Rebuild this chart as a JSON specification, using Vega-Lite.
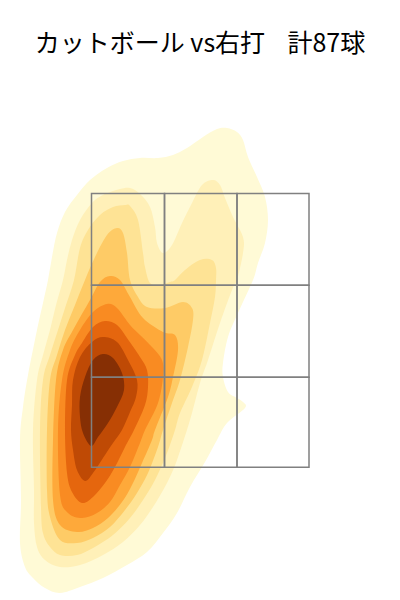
{"$schema":"https://vega.github.io/schema/vega-lite/v6.json","width":400,"height":600,"padding":0,"autosize":{"type":"none"},"background":"white","config":{"view":{"stroke":null}},
"title":{"text":"カットボール vs右打\u00a0\u00a0\u00a0\u00a0計87球","font":"Noto Sans CJK JP","fontSize":25,"fontWeight":"normal","color":"#000000","anchor":"middle","offset":-77,"baseline":"alphabetic"},
"datasets":{"contours":[
{"level":1,"seq":1,"x":-152,"y":320},{"level":1,"seq":2,"x":-148,"y":343},{"level":1,"seq":3,"x":-143,"y":367},{"level":1,"seq":4,"x":-135,"y":388},{"level":1,"seq":5,"x":-123,"y":405},{"level":1,"seq":6,"x":-110,"y":420},{"level":1,"seq":7,"x":-93,"y":432},{"level":1,"seq":8,"x":-77,"y":439},{"level":1,"seq":9,"x":-60,"y":442},{"level":1,"seq":10,"x":-42,"y":442},{"level":1,"seq":11,"x":-27,"y":445},{"level":1,"seq":12,"x":-13,"y":452},{"level":1,"seq":13,"x":3,"y":463},{"level":1,"seq":14,"x":17,"y":471},{"level":1,"seq":15,"x":27,"y":472},{"level":1,"seq":16,"x":37,"y":468},{"level":1,"seq":17,"x":43,"y":460},{"level":1,"seq":18,"x":48,"y":443},{"level":1,"seq":19,"x":57,"y":423},{"level":1,"seq":20,"x":65,"y":403},{"level":1,"seq":21,"x":68,"y":380},{"level":1,"seq":22,"x":65,"y":357},{"level":1,"seq":23,"x":58,"y":337},{"level":1,"seq":24,"x":53,"y":320},{"level":1,"seq":25,"x":38,"y":287},{"level":1,"seq":26,"x":28,"y":263},{"level":1,"seq":27,"x":23,"y":237},{"level":1,"seq":28,"x":23,"y":223},{"level":1,"seq":29,"x":28,"y":208},{"level":1,"seq":30,"x":37,"y":202},{"level":1,"seq":31,"x":43,"y":198},{"level":1,"seq":32,"x":45,"y":192},{"level":1,"seq":33,"x":27,"y":177},{"level":1,"seq":34,"x":17,"y":160},{"level":1,"seq":35,"x":5,"y":138},{"level":1,"seq":36,"x":-10,"y":113},{"level":1,"seq":37,"x":-23,"y":87},{"level":1,"seq":38,"x":-37,"y":67},{"level":1,"seq":39,"x":-53,"y":48},{"level":1,"seq":40,"x":-73,"y":35},{"level":1,"seq":41,"x":-97,"y":22},{"level":1,"seq":42,"x":-120,"y":13},{"level":1,"seq":43,"x":-140,"y":7},{"level":1,"seq":44,"x":-155,"y":12},{"level":1,"seq":45,"x":-167,"y":22},{"level":1,"seq":46,"x":-175,"y":33},{"level":1,"seq":47,"x":-180,"y":57},{"level":1,"seq":48,"x":-179,"y":100},{"level":1,"seq":49,"x":-180,"y":160},{"level":1,"seq":50,"x":-177,"y":193},{"level":1,"seq":51,"x":-172,"y":225},{"level":1,"seq":52,"x":-163,"y":270},{"level":1,"seq":53,"x":-157,"y":297},
{"level":2,"seq":1,"x":-137,"y":320},{"level":2,"seq":2,"x":-133,"y":340},{"level":2,"seq":3,"x":-128,"y":360},{"level":2,"seq":4,"x":-120,"y":380},{"level":2,"seq":5,"x":-108,"y":397},{"level":2,"seq":6,"x":-97,"y":405},{"level":2,"seq":7,"x":-80,"y":411},{"level":2,"seq":8,"x":-70,"y":412},{"level":2,"seq":9,"x":-60,"y":406},{"level":2,"seq":10,"x":-50,"y":393},{"level":2,"seq":11,"x":-45,"y":373},{"level":2,"seq":12,"x":-43,"y":357},{"level":2,"seq":13,"x":-37,"y":347},{"level":2,"seq":14,"x":-28,"y":355},{"level":2,"seq":15,"x":-18,"y":377},{"level":2,"seq":16,"x":-8,"y":397},{"level":2,"seq":17,"x":2,"y":415},{"level":2,"seq":18,"x":13,"y":420},{"level":2,"seq":19,"x":20,"y":415},{"level":2,"seq":20,"x":25,"y":402},{"level":2,"seq":21,"x":33,"y":383},{"level":2,"seq":22,"x":43,"y":363},{"level":2,"seq":23,"x":43,"y":347},{"level":2,"seq":24,"x":37,"y":320},{"level":2,"seq":25,"x":32,"y":310},{"level":2,"seq":26,"x":20,"y":277},{"level":2,"seq":27,"x":8,"y":240},{"level":2,"seq":28,"x":0,"y":217},{"level":2,"seq":29,"x":-10,"y":180},{"level":2,"seq":30,"x":-23,"y":140},{"level":2,"seq":31,"x":-33,"y":117},{"level":2,"seq":32,"x":-47,"y":93},{"level":2,"seq":33,"x":-60,"y":75},{"level":2,"seq":34,"x":-77,"y":58},{"level":2,"seq":35,"x":-97,"y":45},{"level":2,"seq":36,"x":-120,"y":35},{"level":2,"seq":37,"x":-140,"y":33},{"level":2,"seq":38,"x":-155,"y":40},{"level":2,"seq":39,"x":-163,"y":53},{"level":2,"seq":40,"x":-166,"y":77},{"level":2,"seq":41,"x":-166,"y":110},{"level":2,"seq":42,"x":-167,"y":170},{"level":2,"seq":43,"x":-163,"y":220},{"level":2,"seq":44,"x":-157,"y":245},{"level":2,"seq":45,"x":-150,"y":270},{"level":2,"seq":46,"x":-144,"y":295},
{"level":3,"seq":1,"x":-126,"y":320},{"level":3,"seq":2,"x":-120,"y":352},{"level":3,"seq":3,"x":-112,"y":370},{"level":3,"seq":4,"x":-100,"y":385},{"level":3,"seq":5,"x":-87,"y":393},{"level":3,"seq":6,"x":-75,"y":395},{"level":3,"seq":7,"x":-70,"y":394},{"level":3,"seq":8,"x":-62,"y":380},{"level":3,"seq":9,"x":-57,"y":347},{"level":3,"seq":10,"x":-55,"y":333},{"level":3,"seq":11,"x":-50,"y":317},{"level":3,"seq":12,"x":-40,"y":315},{"level":3,"seq":13,"x":-30,"y":318},{"level":3,"seq":14,"x":-25,"y":320},{"level":3,"seq":15,"x":-15,"y":330},{"level":3,"seq":16,"x":0,"y":340},{"level":3,"seq":17,"x":12,"y":340},{"level":3,"seq":18,"x":16,"y":332},{"level":3,"seq":19,"x":16,"y":320},{"level":3,"seq":20,"x":15,"y":303},{"level":3,"seq":21,"x":10,"y":277},{"level":3,"seq":22,"x":2,"y":240},{"level":3,"seq":23,"x":-8,"y":213},{"level":3,"seq":24,"x":-20,"y":187},{"level":3,"seq":25,"x":-25,"y":170},{"level":3,"seq":26,"x":-33,"y":147},{"level":3,"seq":27,"x":-45,"y":120},{"level":3,"seq":28,"x":-57,"y":100},{"level":3,"seq":29,"x":-70,"y":82},{"level":3,"seq":30,"x":-87,"y":65},{"level":3,"seq":31,"x":-107,"y":52},{"level":3,"seq":32,"x":-123,"y":45},{"level":3,"seq":33,"x":-140,"y":45},{"level":3,"seq":34,"x":-150,"y":53},{"level":3,"seq":35,"x":-157,"y":67},{"level":3,"seq":36,"x":-159,"y":93},{"level":3,"seq":37,"x":-160,"y":170},{"level":3,"seq":38,"x":-157,"y":220},{"level":3,"seq":39,"x":-150,"y":245},{"level":3,"seq":40,"x":-142,"y":270},{"level":3,"seq":41,"x":-134,"y":295},
{"level":4,"seq":1,"x":-115,"y":320},{"level":4,"seq":2,"x":-105,"y":343},{"level":4,"seq":3,"x":-93,"y":365},{"level":4,"seq":4,"x":-83,"y":372},{"level":4,"seq":5,"x":-77,"y":367},{"level":4,"seq":6,"x":-73,"y":347},{"level":4,"seq":7,"x":-70,"y":320},{"level":4,"seq":8,"x":-62,"y":303},{"level":4,"seq":9,"x":-53,"y":293},{"level":4,"seq":10,"x":-35,"y":292},{"level":4,"seq":11,"x":-17,"y":298},{"level":4,"seq":12,"x":-8,"y":292},{"level":4,"seq":13,"x":-7,"y":280},{"level":4,"seq":14,"x":-12,"y":253},{"level":4,"seq":15,"x":-20,"y":220},{"level":4,"seq":16,"x":-28,"y":197},{"level":4,"seq":17,"x":-37,"y":170},{"level":4,"seq":18,"x":-42,"y":153},{"level":4,"seq":19,"x":-52,"y":127},{"level":4,"seq":20,"x":-63,"y":107},{"level":4,"seq":21,"x":-75,"y":90},{"level":4,"seq":22,"x":-90,"y":73},{"level":4,"seq":23,"x":-107,"y":62},{"level":4,"seq":24,"x":-123,"y":57},{"level":4,"seq":25,"x":-140,"y":60},{"level":4,"seq":26,"x":-150,"y":83},{"level":4,"seq":27,"x":-153,"y":110},{"level":4,"seq":28,"x":-153,"y":170},{"level":4,"seq":29,"x":-150,"y":220},{"level":4,"seq":30,"x":-143,"y":245},{"level":4,"seq":31,"x":-135,"y":270},{"level":4,"seq":32,"x":-125,"y":295},
{"level":5,"seq":1,"x":-100,"y":318},{"level":5,"seq":2,"x":-90,"y":324},{"level":5,"seq":3,"x":-80,"y":320},{"level":5,"seq":4,"x":-70,"y":303},{"level":5,"seq":5,"x":-57,"y":282},{"level":5,"seq":6,"x":-37,"y":268},{"level":5,"seq":7,"x":-25,"y":265},{"level":5,"seq":8,"x":-22,"y":250},{"level":5,"seq":9,"x":-27,"y":223},{"level":5,"seq":10,"x":-32,"y":203},{"level":5,"seq":11,"x":-45,"y":170},{"level":5,"seq":12,"x":-48,"y":160},{"level":5,"seq":13,"x":-58,"y":137},{"level":5,"seq":14,"x":-68,"y":115},{"level":5,"seq":15,"x":-78,"y":98},{"level":5,"seq":16,"x":-92,"y":82},{"level":5,"seq":17,"x":-107,"y":72},{"level":5,"seq":18,"x":-123,"y":68},{"level":5,"seq":19,"x":-140,"y":75},{"level":5,"seq":20,"x":-147,"y":100},{"level":5,"seq":21,"x":-147,"y":160},{"level":5,"seq":22,"x":-144,"y":220},{"level":5,"seq":23,"x":-137,"y":250},{"level":5,"seq":24,"x":-127,"y":270},{"level":5,"seq":25,"x":-110,"y":300},
{"level":6,"seq":1,"x":-93,"y":296},{"level":6,"seq":2,"x":-83,"y":292},{"level":6,"seq":3,"x":-70,"y":275},{"level":6,"seq":4,"x":-60,"y":265},{"level":6,"seq":5,"x":-48,"y":253},{"level":6,"seq":6,"x":-38,"y":240},{"level":6,"seq":7,"x":-37,"y":223},{"level":6,"seq":8,"x":-42,"y":197},{"level":6,"seq":9,"x":-55,"y":170},{"level":6,"seq":10,"x":-60,"y":157},{"level":6,"seq":11,"x":-70,"y":133},{"level":6,"seq":12,"x":-80,"y":115},{"level":6,"seq":13,"x":-90,"y":98},{"level":6,"seq":14,"x":-103,"y":87},{"level":6,"seq":15,"x":-118,"y":82},{"level":6,"seq":16,"x":-132,"y":87},{"level":6,"seq":17,"x":-140,"y":105},{"level":6,"seq":18,"x":-142,"y":170},{"level":6,"seq":19,"x":-138,"y":220},{"level":6,"seq":20,"x":-130,"y":250},{"level":6,"seq":21,"x":-120,"y":270},{"level":6,"seq":22,"x":-107,"y":288},
{"level":7,"seq":1,"x":-95,"y":279},{"level":7,"seq":2,"x":-83,"y":275},{"level":7,"seq":3,"x":-73,"y":262},{"level":7,"seq":4,"x":-60,"y":243},{"level":7,"seq":5,"x":-53,"y":230},{"level":7,"seq":6,"x":-52,"y":213},{"level":7,"seq":7,"x":-55,"y":195},{"level":7,"seq":8,"x":-66,"y":170},{"level":7,"seq":9,"x":-75,"y":153},{"level":7,"seq":10,"x":-85,"y":133},{"level":7,"seq":11,"x":-95,"y":117},{"level":7,"seq":12,"x":-107,"y":103},{"level":7,"seq":13,"x":-118,"y":97},{"level":7,"seq":14,"x":-128,"y":108},{"level":7,"seq":15,"x":-133,"y":127},{"level":7,"seq":16,"x":-135,"y":170},{"level":7,"seq":17,"x":-133,"y":220},{"level":7,"seq":18,"x":-125,"y":245},{"level":7,"seq":19,"x":-118,"y":257},{"level":7,"seq":20,"x":-107,"y":273},
{"level":8,"seq":1,"x":-97,"y":263},{"level":8,"seq":2,"x":-83,"y":258},{"level":8,"seq":3,"x":-72,"y":240},{"level":8,"seq":4,"x":-63,"y":220},{"level":8,"seq":5,"x":-64,"y":203},{"level":8,"seq":6,"x":-70,"y":188},{"level":8,"seq":7,"x":-78,"y":170},{"level":8,"seq":8,"x":-87,"y":157},{"level":8,"seq":9,"x":-97,"y":142},{"level":8,"seq":10,"x":-107,"y":127},{"level":8,"seq":11,"x":-115,"y":119},{"level":8,"seq":12,"x":-123,"y":130},{"level":8,"seq":13,"x":-127,"y":150},{"level":8,"seq":14,"x":-129,"y":170},{"level":8,"seq":15,"x":-128,"y":195},{"level":8,"seq":16,"x":-127,"y":220},{"level":8,"seq":17,"x":-120,"y":243},{"level":8,"seq":18,"x":-108,"y":258},
{"level":9,"seq":1,"x":-97,"y":246},{"level":9,"seq":2,"x":-87,"y":242},{"level":9,"seq":3,"x":-78,"y":227},{"level":9,"seq":4,"x":-76,"y":210},{"level":9,"seq":5,"x":-83,"y":193},{"level":9,"seq":6,"x":-92,"y":177},{"level":9,"seq":7,"x":-102,"y":163},{"level":9,"seq":8,"x":-109,"y":154},{"level":9,"seq":9,"x":-117,"y":167},{"level":9,"seq":10,"x":-120,"y":183},{"level":9,"seq":11,"x":-120,"y":203},{"level":9,"seq":12,"x":-115,"y":223},{"level":9,"seq":13,"x":-107,"y":240}
],
"zone":[
{"x":-108.5,"x2":-35.5,"y":314.7,"y2":406.5},{"x":-35.5,"x2":37,"y":314.7,"y2":406.5},{"x":37,"x2":109,"y":314.7,"y2":406.5},
{"x":-108.5,"x2":-35.5,"y":222.7,"y2":314.7},{"x":-35.5,"x2":37,"y":222.7,"y2":314.7},{"x":37,"x2":109,"y":222.7,"y2":314.7},
{"x":-108.5,"x2":-35.5,"y":132.7,"y2":222.7},{"x":-35.5,"x2":37,"y":132.7,"y2":222.7},{"x":37,"x2":109,"y":132.7,"y2":222.7}
]},
"layer":[
{"data":{"name":"contours"},"mark":{"type":"line","interpolate":"cardinal-closed","strokeWidth":0,"clip":false},
"encoding":{"x":{"field":"x","type":"quantitative","scale":{"domain":[-200,200],"nice":false,"zero":false},"axis":null},
"y":{"field":"y","type":"quantitative","scale":{"domain":[0,600],"nice":false,"zero":false},"axis":null},
"order":{"field":"seq","type":"quantitative"},
"fill":{"field":"level","type":"ordinal","legend":null,"scale":{"domain":[1,2,3,4,5,6,7,8,9],"range":["#fffad6","#fff0b8","#fee395","#fecb66","#fea93a","#f98b22","#e5660e","#bf4a05","#862f04"]}}}},
{"data":{"name":"zone"},"mark":{"type":"rect","fillOpacity":0,"stroke":"#808080","strokeWidth":1.5},
"encoding":{"x":{"field":"x","type":"quantitative"},"x2":{"field":"x2"},"y":{"field":"y","type":"quantitative"},"y2":{"field":"y2"}}}
]}
